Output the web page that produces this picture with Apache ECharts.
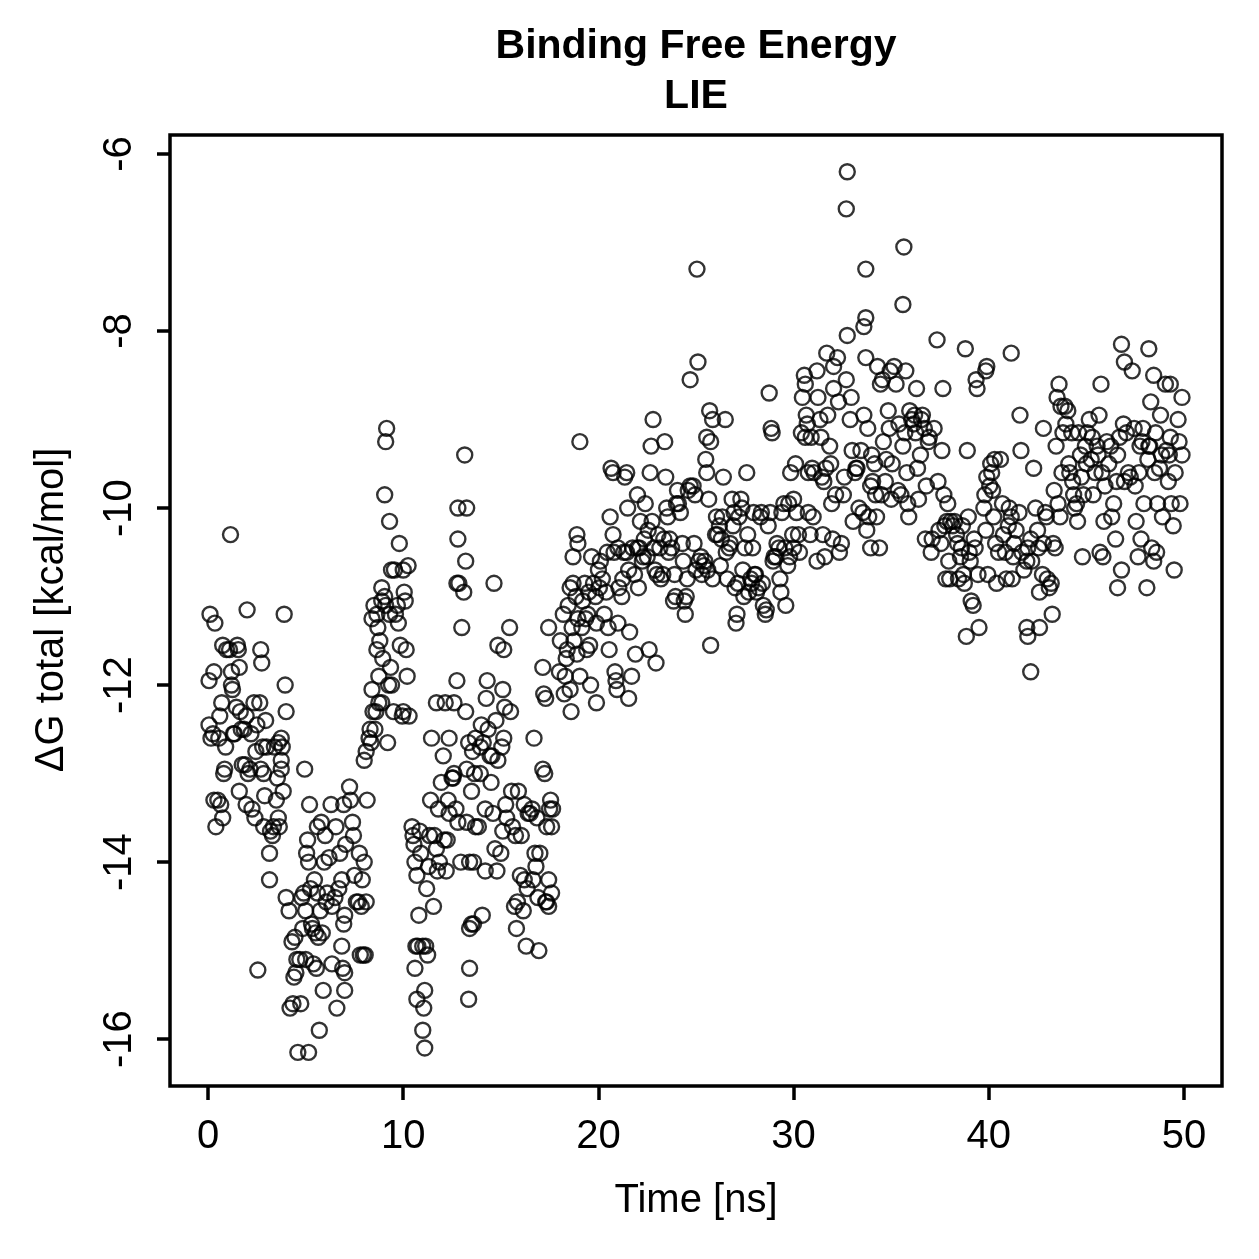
<!DOCTYPE html>
<html>
<head>
<meta charset="utf-8">
<title>Binding Free Energy - LIE</title>
<script src="https://cdn.jsdelivr.net/npm/echarts@6/dist/echarts.min.js"></script>
<style>
  html, body { margin: 0; padding: 0; background: #fff; }
  #chart { width: 1259px; height: 1259px; }
</style>
</head>
<body>
<div id="chart"></div>
<script>
// [time (ns), dG total (kcal/mol)], in 10 ns blocks
var block0to10 = [
  [0.05,-12.45],[0.05,-11.95],[0.1,-11.2],[0.15,-12.6],[0.25,-12.55],[0.3,-11.85],[0.35,-11.3],[0.3,-13.3],[0.4,-13.6],[0.5,-13.3],
  [0.55,-12.6],[0.6,-12.35],[0.65,-13.35],[0.75,-13.5],[0.7,-12.2],[0.75,-11.55],[0.8,-13.0],[0.85,-12.95],[0.9,-12.7],[0.95,-11.6],
  [1.15,-10.3],[1.1,-11.6],[1.2,-11.85],[1.25,-12.05],[1.3,-12.55],[1.2,-12.0],[1.5,-11.55],[1.55,-11.6],[1.6,-11.8],[1.65,-12.3],
  [1.7,-12.5],[1.75,-12.9],[1.85,-12.5],[1.6,-13.2],[1.45,-12.25],[1.35,-12.55],[1.9,-12.9],[2.0,-11.15],[1.95,-12.35],[1.95,-13.35],
  [2.05,-13.0],[2.15,-12.95],[2.25,-13.4],[2.2,-12.55],[2.35,-12.2],[2.45,-12.75],[2.4,-13.5],[2.55,-15.22],[2.5,-12.45],[2.65,-12.2],
  [2.7,-11.6],[2.75,-11.75],[2.8,-12.7],[2.85,-13.0],[2.7,-12.95],[2.95,-12.4],[3.0,-12.7],[2.85,-13.6],[2.9,-13.25],[3.15,-13.9],
  [3.2,-13.65],[3.15,-14.2],[3.35,-13.6],[3.3,-13.7],[3.4,-12.7],[3.5,-13.3],[3.55,-13.05],[3.6,-13.5],[3.75,-12.95],[3.6,-12.65],
  [3.8,-12.7],[3.75,-12.6],[3.85,-13.2],[3.9,-11.2],[4.0,-12.3],[3.95,-12.0],[4.0,-14.4],[4.15,-14.55],[3.65,-13.6],[3.75,-12.85],
  [4.3,-14.9],[4.2,-15.65],[4.35,-15.6],[4.4,-15.3],[4.5,-15.25],[4.45,-14.85],[4.55,-15.1],[4.6,-16.15],[4.7,-15.1],[4.75,-15.6],
  [4.8,-14.4],[4.85,-14.75],[4.95,-12.95],[4.9,-14.35],[5.05,-13.9],[5.1,-13.75],[5.15,-14.0],[5.0,-14.55],[5.0,-15.1],[5.15,-16.15],
  [5.2,-13.35],[5.25,-14.3],[5.3,-14.7],[5.35,-14.75],[5.4,-15.15],[5.55,-15.2],[5.45,-14.2],[5.6,-13.6],[5.7,-15.9],[5.65,-14.85],
  [5.6,-14.35],[5.8,-13.55],[5.75,-14.55],[5.85,-14.8],[5.9,-15.45],[5.95,-14.0],[6.0,-13.7],[5.5,-14.8],
  [6.05,-14.45],[6.1,-14.35],[6.2,-13.95],[6.3,-13.35],[6.35,-14.5],[6.35,-15.15],[6.5,-14.4],[6.55,-13.6],[6.6,-15.65],[6.7,-14.3],
  [6.75,-13.9],[6.85,-14.2],[6.85,-14.95],[6.9,-15.2],[6.95,-14.7],[6.95,-13.35],[7.0,-15.45],[7.0,-15.25],[7.05,-13.8],[7.0,-14.6],
  [7.25,-13.15],[7.3,-13.3],[7.4,-13.55],[7.45,-13.7],[7.5,-14.15],[7.6,-14.45],[7.7,-14.45],[7.75,-13.9],[7.8,-15.05],[7.85,-14.5],
  [7.95,-15.05],[7.9,-14.2],[8.0,-14.0],[8.05,-15.05],[8.1,-14.45],[8.15,-13.3],[8.0,-12.85],[8.1,-12.75],
  [8.25,-12.6],[8.35,-12.65],[8.3,-12.5],[8.4,-12.05],[8.45,-12.3],[8.5,-11.1],[8.4,-11.25],[8.6,-12.3],[8.65,-11.2],[8.7,-11.35],
  [8.75,-11.9],[8.8,-11.5],[8.9,-10.9],[8.95,-11.7],[8.75,-12.2],[8.65,-11.6],[8.55,-12.5],[8.9,-11.05],[8.9,-12.2],
  [9.15,-9.1],[9.1,-9.25],[9.05,-9.85],[9.3,-10.15],[9.05,-11.0],[9.1,-11.1],[9.35,-11.8],[9.4,-12.0],[9.5,-12.3],[9.2,-12.65],
  [9.25,-12.0],[9.3,-11.2],[9.4,-10.7],[9.55,-10.7],[9.6,-11.2],[9.75,-11.3],[9.8,-10.4],[9.85,-11.55],[9.95,-12.35],[9.7,-11.1],
  [10.0,-10.7],[10.0,-12.3]
];
var block10to20 = [
  [10.1,-11.05],[10.05,-10.95],[10.15,-11.6],[10.25,-10.65],[10.2,-11.9],[10.3,-12.35],
  [10.45,-13.6],[10.5,-13.7],[10.55,-13.8],[10.6,-14.0],[10.7,-14.15],[10.8,-14.6],[10.65,-14.95],[10.75,-14.95],[10.6,-15.2],[10.7,-15.55],
  [10.9,-13.9],[10.85,-13.65],
  [11.0,-14.95],[11.15,-14.95],[11.25,-15.05],[11.1,-15.45],[11.0,-15.9],[11.1,-16.1],[11.05,-15.65],[11.2,-14.3],[11.3,-14.05],[11.35,-13.7],
  [11.4,-13.3],[11.45,-12.6],[11.7,-12.2],[11.55,-14.5],[11.6,-13.7],[11.7,-13.85],[11.75,-14.1],[11.85,-14.0],[11.95,-13.1],[12.15,-12.2],[11.8,-13.4],
  [12.05,-12.8],[12.1,-13.75],[12.2,-14.1],[12.25,-13.75],[12.3,-13.3],[12.35,-13.45],[12.35,-12.6],[12.5,-13.05],[12.6,-13.0],[12.6,-12.2],
  [12.7,-13.4],[12.75,-11.95],[12.75,-10.85],[12.8,-10.35],[12.8,-10.0],[12.85,-10.85],[13.0,-11.35],[12.95,-14.0],[12.55,-13.05],[12.8,-13.55],
  [13.15,-9.4],[13.25,-10.0],[13.2,-10.6],[13.1,-10.95],[13.2,-12.3],[13.35,-12.65],[13.25,-12.95],[13.25,-13.55],[13.4,-14.0],[13.4,-14.75],
  [13.5,-14.7],[13.6,-14.7],[13.4,-15.2],[13.35,-15.55],[13.5,-13.2],[13.55,-12.75],[13.7,-12.6],[13.65,-13.0],[13.7,-13.6],[13.6,-14.0],
  [13.85,-13.6],[13.95,-13.0],[13.95,-12.7],[14.0,-12.45],[14.1,-12.65],[14.05,-14.6],[14.2,-14.1],[14.2,-13.4],[14.25,-12.15],[14.3,-11.95],
  [14.35,-12.5],[14.45,-12.8],[14.5,-13.1],[14.55,-12.8],[14.6,-13.45],[14.7,-13.85],[14.8,-14.1],[14.75,-12.4],[14.85,-11.55],[14.85,-12.85],[14.65,-10.85],
  [15.05,-12.7],[15.1,-12.05],[15.2,-12.25],[15.15,-12.6],[15.25,-13.35],[15.3,-13.5],[15.1,-13.65],[15.0,-13.9],[15.15,-11.6],[15.45,-11.35],
  [15.5,-12.3],[15.55,-13.2],[15.6,-13.6],[15.7,-14.5],[15.8,-14.75],[15.85,-14.45],[15.75,-13.7],[15.9,-13.2],[16.0,-14.15],[16.05,-13.7],
  [16.2,-13.35],[16.2,-14.2],[16.35,-14.3],[16.15,-14.55],[16.3,-14.95],[16.4,-13.45],[16.5,-13.45],[16.6,-13.4],[16.65,-14.2],[16.7,-12.6],
  [16.75,-13.9],[16.85,-13.5],[16.9,-14.4],[16.95,-15.0],[17.0,-13.9],[16.8,-14.05],
  [17.15,-12.95],[17.25,-13.0],[17.3,-14.45],[17.35,-14.45],[17.45,-14.5],[17.45,-14.2],[17.35,-13.6],[17.5,-13.4],[17.55,-13.3],[17.15,-11.8],
  [17.2,-12.1],[17.45,-11.35],[17.3,-12.15],[17.6,-13.6],[17.6,-14.35],[17.65,-13.4],
  [18.0,-11.85],[18.05,-11.5],[18.2,-11.2],[18.25,-12.1],[18.3,-11.9],[18.35,-11.7],[18.4,-11.6],[18.55,-10.9],[18.65,-11.35],[18.75,-11.5],
  [18.85,-11.0],[18.7,-10.85],[18.7,-10.55],[18.6,-12.3],[18.55,-12.05],[18.9,-11.65],[18.95,-11.25],[18.95,-10.4],[18.9,-10.3],[18.45,-11.1],
  [19.05,-11.9],[19.15,-11.35],[19.2,-11.05],[19.3,-10.85],[19.35,-11.25],[19.4,-11.6],[19.45,-11.2],[19.5,-10.95],[19.55,-11.55],[19.6,-12.0],
  [19.65,-10.55],[19.75,-10.85],[19.85,-11.0],[19.9,-12.2],[19.9,-11.3],[20.0,-10.7],[19.05,-9.25],[20.05,-10.9]
];
var block20to30 = [
  [20.1,-10.6],[20.2,-10.8],[20.3,-11.2],[20.4,-10.95],[20.45,-10.5],[20.5,-11.35],[20.55,-11.6],[20.6,-10.1],[20.65,-9.55],[20.75,-9.6],
  [20.75,-10.3],[20.8,-10.5],[20.85,-11.85],[20.9,-11.95],[20.95,-12.05],[21.0,-11.3],[21.0,-10.45],
  [21.05,-10.9],[21.2,-11.0],[21.25,-10.8],[21.3,-10.5],[21.35,-9.65],[21.45,-9.6],[21.5,-10.0],[21.55,-10.7],[21.6,-11.4],[21.55,-12.15],
  [21.7,-11.9],[21.75,-10.45],[21.85,-10.75],[21.9,-11.65],[22.0,-10.45],[22.0,-9.85],[21.45,-10.5],
  [22.05,-10.9],[22.1,-10.45],[22.15,-10.15],[22.25,-10.6],[22.3,-10.55],[22.35,-10.35],[22.4,-9.95],[22.5,-10.55],[22.55,-10.25],[22.6,-11.6],
  [22.65,-9.6],[22.7,-9.3],[22.8,-9.0],[22.75,-10.15],[22.85,-10.45],[22.95,-11.75],[22.9,-10.7],[23.0,-10.75],
  [23.05,-10.3],[23.15,-10.45],[23.2,-10.8],[23.3,-10.75],[23.35,-10.35],[23.45,-9.65],[23.5,-10.0],[23.55,-10.1],[23.65,-10.35],[23.75,-10.45],
  [23.85,-11.05],[23.9,-10.75],[23.95,-11.0],[23.4,-9.25],[24.0,-9.95],[23.6,-10.5],
  [24.05,-9.8],[24.1,-9.95],[24.2,-10.05],[24.3,-10.4],[24.35,-10.6],[24.4,-11.05],[24.45,-11.2],[24.5,-11.0],[24.55,-10.8],[24.6,-9.8],
  [24.7,-8.55],[24.85,-9.75],[24.9,-10.4],[25.0,-10.7],[24.95,-9.85],[25.05,-7.3],[24.7,-9.75],
  [25.1,-8.35],[25.15,-10.6],[25.25,-10.55],[25.3,-10.75],[25.4,-10.65],[25.45,-10.6],[25.55,-9.6],[25.55,-9.2],[25.5,-9.45],[25.7,-8.9],
  [25.75,-9.25],[25.85,-9.0],[25.65,-9.9],[25.6,-10.7],[25.75,-11.55],[25.85,-10.8],[26.0,-10.3],[26.05,-10.1],
  [26.1,-10.3],[26.2,-10.2],[26.25,-10.65],[26.3,-10.35],[26.35,-10.1],[26.4,-9.65],[26.5,-9.0],[26.55,-10.5],[26.6,-10.8],[26.7,-10.45],
  [26.75,-10.4],[26.85,-9.9],[26.9,-10.2],[26.95,-10.05],[27.0,-10.9],[27.05,-11.3],
  [27.1,-11.2],[27.15,-10.85],[27.2,-10.1],[27.3,-9.9],[27.35,-10.0],[27.4,-10.7],[27.45,-11.0],[27.5,-10.45],[27.6,-9.6],[27.65,-10.3],
  [27.7,-10.95],[27.8,-10.8],[27.85,-10.85],[27.9,-10.45],[27.95,-10.05],[28.0,-10.75],
  [28.05,-10.75],[28.1,-10.95],[28.2,-10.9],[28.3,-10.1],[28.35,-10.05],[28.4,-10.85],[28.45,-11.1],[28.55,-11.2],[28.6,-11.15],[28.7,-10.2],
  [28.75,-8.7],[28.85,-9.1],[28.9,-9.15],[28.95,-10.6],[29.0,-10.55],[28.8,-10.05],
  [29.1,-10.55],[29.15,-10.4],[29.25,-10.45],[29.3,-10.8],[29.35,-10.95],[29.4,-10.05],[29.5,-9.95],[29.55,-10.45],[29.6,-11.1],[29.7,-10.65],
  [29.75,-9.95],[29.85,-9.6],[29.8,-10.55],[29.95,-10.3],[30.0,-10.45],[30.0,-9.9]
];
var block30to40 = [
  [30.1,-9.5],[30.15,-10.05],[30.25,-10.3],[30.3,-10.5],[30.4,-9.15],[30.45,-8.75],[30.55,-8.5],[30.6,-8.6],[30.6,-9.2],[30.65,-8.95],
  [30.7,-9.05],[30.75,-9.6],[30.75,-10.05],[30.85,-10.3],[30.95,-9.55],[31.0,-10.1],[31.05,-9.6],[30.9,-9.2],
  [31.2,-8.45],[31.25,-8.75],[31.35,-9.0],[31.4,-9.2],[31.45,-9.65],[31.5,-10.3],[31.6,-10.55],[31.2,-10.6],[31.65,-9.55],[31.7,-8.25],
  [31.75,-8.95],[31.85,-9.3],[31.9,-9.5],[31.95,-9.95],[32.0,-10.35],[32.05,-8.4],[31.55,-9.7],
  [32.05,-8.65],[32.15,-9.85],[32.25,-8.3],[32.3,-8.8],[32.35,-10.5],[32.45,-10.4],[32.55,-9.85],[32.6,-9.65],[32.75,-8.05],[32.7,-8.55],
  [32.7,-6.62],[32.75,-6.2],[32.95,-8.75],[32.9,-9.0],[33.05,-10.15],[33.0,-9.35],[33.15,-9.6],
  [33.2,-9.55],[33.25,-9.55],[33.35,-10.0],[33.45,-9.35],[33.55,-10.05],[33.6,-8.95],[33.7,-8.3],[33.7,-7.85],[33.6,-7.95],[33.8,-9.1],
  [33.85,-10.1],[33.95,-10.45],[33.95,-9.75],[34.0,-9.4],[33.7,-7.3],[33.75,-10.25],
  [34.05,-9.7],[34.15,-9.5],[34.2,-9.85],[34.25,-10.1],[34.3,-8.4],[34.45,-8.6],[34.55,-8.55],[34.6,-9.25],[34.7,-9.7],[34.75,-9.45],
  [34.85,-8.9],[34.9,-9.1],[34.95,-8.45],[35.0,-9.9],[34.5,-9.85],[34.4,-10.45],
  [35.05,-9.5],[35.15,-8.4],[35.25,-8.6],[35.4,-9.05],[35.6,-7.7],[35.65,-7.05],[35.6,-9.3],[35.7,-9.15],[35.75,-8.45],[35.8,-9.6],
  [35.85,-9.95],[35.5,-9.85],[35.9,-10.1],[35.95,-8.9],[35.35,-9.8],
  [36.05,-9.0],[36.15,-9.05],[36.2,-8.95],[36.25,-9.15],[36.35,-9.55],[36.4,-9.9],[36.5,-9.4],[36.55,-9.0],[36.6,-8.95],[36.7,-9.1],
  [36.75,-10.35],[36.8,-9.75],[36.9,-9.25],[36.95,-9.2],[36.3,-8.65],
  [37.05,-10.5],[37.1,-10.35],[37.2,-9.1],[37.35,-8.1],[37.4,-9.7],[37.45,-10.25],[37.55,-10.4],[37.6,-9.35],[37.65,-8.65],[37.7,-9.85],
  [37.75,-10.2],[37.8,-10.8],[37.85,-10.15],[37.95,-10.6],[38.0,-10.8],[37.9,-9.95],
  [38.05,-10.15],[38.15,-10.2],[38.25,-10.15],[38.35,-10.3],[38.4,-10.4],[38.45,-10.8],[38.55,-10.55],[38.6,-10.45],[38.65,-10.2],[38.7,-10.75],
  [38.85,-11.45],[38.75,-10.85],[38.9,-9.35],[38.8,-8.2],[38.95,-10.1],[39.0,-10.5],
  [39.05,-10.6],[39.1,-11.05],[39.2,-11.1],[39.25,-10.35],[39.3,-10.45],[39.35,-8.55],[39.4,-8.65],[39.45,-10.75],[39.5,-11.35],[39.85,-8.45],
  [39.9,-8.4],[39.75,-10.0],[39.8,-9.85],[39.85,-10.25],[39.95,-10.75],[39.9,-9.65]
];
var block40to50 = [
  [40.05,-9.75],[40.1,-9.5],[40.15,-9.6],[40.2,-9.8],[40.25,-10.1],[40.3,-9.45],[40.35,-10.4],[40.4,-10.85],[40.5,-10.5],[40.6,-9.45],
  [40.7,-9.95],[40.75,-10.3],[40.85,-10.5],[41.15,-8.25],[41.0,-10.2],[40.9,-10.8],
  [41.05,-10.0],[41.15,-10.1],[41.2,-10.8],[41.25,-10.55],[41.3,-10.4],[41.4,-10.25],[41.55,-10.05],[41.65,-9.35],[41.7,-10.5],[41.8,-10.7],
  [42.0,-11.45],[41.95,-11.35],[41.95,-10.6],[41.6,-8.95],[42.0,-10.45],
  [42.15,-11.85],[42.15,-10.35],[42.2,-10.6],[42.3,-9.55],[42.4,-10.0],[42.5,-10.25],[42.55,-10.45],[42.6,-10.95],[42.6,-11.35],[42.75,-10.75],
  [42.8,-10.4],[42.9,-10.05],[42.95,-10.1],[43.0,-10.8],[42.8,-9.1],
  [43.1,-10.9],[43.2,-10.85],[43.25,-11.2],[43.3,-10.4],[43.4,-10.45],[43.45,-9.3],[43.5,-8.75],[43.6,-8.6],[43.7,-8.85],[43.55,-9.95],
  [43.65,-10.1],[43.75,-9.6],[43.8,-9.15],[43.35,-9.8],[43.9,-8.85],[43.95,-9.05],
  [44.05,-8.9],[44.1,-9.5],[44.15,-9.6],[44.25,-9.15],[44.3,-9.7],[44.35,-9.85],[44.4,-10.0],[44.5,-9.95],[44.55,-10.15],[44.6,-9.15],
  [44.7,-9.4],[44.75,-9.65],[44.85,-9.85],[44.8,-10.55],[44.95,-9.3],[45.0,-9.5],
  [45.05,-9.15],[45.15,-9.0],[45.25,-9.45],[45.3,-9.2],[45.35,-9.85],[45.45,-9.6],[45.55,-9.3],[45.65,-8.95],[45.75,-8.6],[45.8,-9.6],
  [45.7,-10.5],[45.9,-10.15],[45.95,-9.75],[45.85,-10.55],[45.6,-9.4],
  [46.05,-9.25],[46.15,-9.5],[46.25,-9.3],[46.3,-10.1],[46.4,-9.95],[46.55,-9.7],[46.6,-9.4],[46.5,-10.35],[46.7,-9.2],[46.8,-8.15],
  [46.9,-9.05],[46.95,-9.7],[46.6,-10.9],[46.8,-10.7],[46.95,-8.35],
  [47.05,-9.15],[47.15,-9.6],[47.25,-9.65],[47.35,-8.45],[47.45,-9.1],[47.5,-9.75],[47.55,-10.15],[47.65,-10.55],[47.7,-9.6],[47.75,-9.3],
  [47.85,-9.25],[47.8,-10.35],[47.95,-9.95],[47.9,-9.1],[48.1,-10.9],
  [48.2,-8.2],[48.15,-9.45],[48.2,-9.3],[48.3,-8.8],[48.45,-8.5],[48.5,-9.6],[48.55,-9.15],[48.35,-10.45],[48.45,-10.6],[48.65,-9.95],
  [48.75,-9.55],[48.8,-8.95],[48.85,-9.4],[48.9,-10.1],[48.6,-10.5],[48.25,-9.3],
  [49.05,-8.6],[49.1,-9.35],[49.2,-9.7],[49.25,-9.4],[49.3,-9.2],[49.35,-9.95],[49.45,-10.2],[49.5,-10.7],[49.55,-9.6],[49.3,-8.6],
  [49.7,-9.0],[49.75,-9.25],[49.8,-9.95],[49.9,-9.4],[49.9,-8.75]
];

var xTicks = [0, 10, 20, 30, 40, 50];
var yTicks = [-16, -14, -12, -10, -8, -6];

var allPoints = block0to10.concat(block10to20, block20to30, block30to40, block40to50);

var font = '"Liberation Sans", Arial, Helvetica, sans-serif';
var chart = echarts.init(document.getElementById('chart'), null, { renderer: 'canvas' });

var option = {
  animation: false,
  backgroundColor: '#fff',
  grid: {
    left: 170,
    right: 37,
    top: 135,
    bottom: 173,
    show: true,
    borderColor: '#000',
    borderWidth: 3.5,
    backgroundColor: 'transparent'
  },
  xAxis: {
    type: 'value',
    min: -1.95,
    max: 51.95,
    axisLine: { show: false, onZero: false },
    splitLine: { show: false },
    axisTick: {
      show: true,
      inside: false,
      length: 14,
      customValues: xTicks,
      lineStyle: { color: '#000', width: 3.5 }
    },
    axisLabel: {
      customValues: xTicks,
      margin: 31,
      color: '#000',
      fontSize: 40,
      fontFamily: font
    }
  },
  yAxis: {
    type: 'value',
    min: -16.53,
    max: -5.785,
    axisLine: { show: false, onZero: false },
    splitLine: { show: false },
    axisTick: {
      show: true,
      inside: false,
      length: 13,
      customValues: yTicks,
      lineStyle: { color: '#000', width: 3.5 }
    },
    axisLabel: {
      customValues: yTicks,
      rotate: 90,
      margin: 30,
      color: '#000',
      fontSize: 40,
      fontFamily: font
    }
  },
  graphic: [
    {
      type: 'text', x: 696, y: 47,
      style: { text: 'Binding Free Energy', fill: '#000', font: 'bold 41px ' + font, textAlign: 'center', textVerticalAlign: 'middle' }
    },
    {
      type: 'text', x: 696, y: 97,
      style: { text: 'LIE', fill: '#000', font: 'bold 41px ' + font, textAlign: 'center', textVerticalAlign: 'middle' }
    },
    {
      type: 'text', x: 696, y: 1201,
      style: { text: 'Time [ns]', fill: '#000', font: '40px ' + font, textAlign: 'center', textVerticalAlign: 'middle' }
    },
    {
      type: 'text', x: 52, y: 610, rotation: Math.PI / 2,
      style: { text: 'ΔG total [kcal/mol]', fill: '#000', font: '40px ' + font, textAlign: 'center', textVerticalAlign: 'middle' }
    }
  ],
  series: [{
    type: 'scatter',
    data: allPoints,
    symbol: 'circle',
    symbolSize: 15,
    silent: true,
    itemStyle: {
      color: 'rgba(0,0,0,0)',
      borderColor: '#000',
      borderWidth: 2.4
    }
  }]
};

chart.setOption(option);
</script>
</body>
</html>
